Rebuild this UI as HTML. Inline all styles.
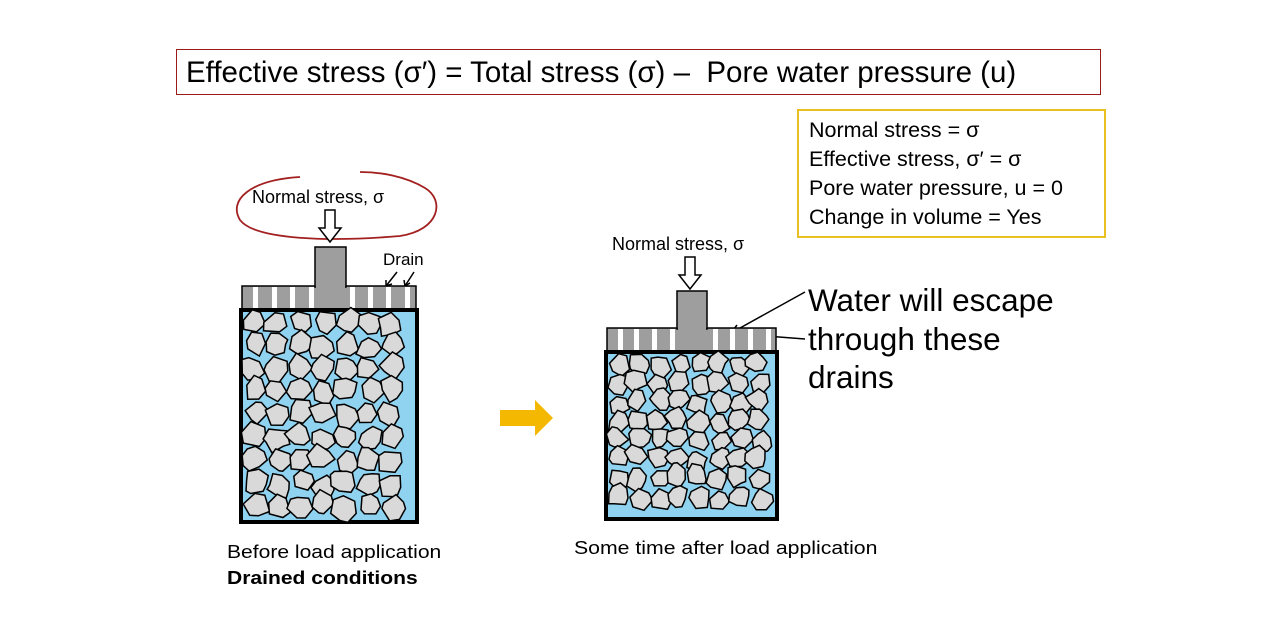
<!DOCTYPE html>
<html><head><meta charset="utf-8"><style>
body{margin:0;background:#fff;width:1280px;height:621px;overflow:hidden;position:relative;font-family:"Liberation Sans",sans-serif}
.t{position:absolute;white-space:nowrap;color:#000}
</style></head><body>
<div style="position:absolute;left:176px;top:49px;width:923px;height:44px;border:1.5px solid #9b1b1b"></div>
<div class="t" style="left:186px;top:56px;font-size:29.5px;line-height:34px">Effective stress (σ′) = Total stress (σ) –&nbsp; Pore water pressure (u)</div>
<div style="position:absolute;left:797px;top:109px;width:305px;height:125px;border:2px solid #e8c020"></div>
<div class="t" style="left:809px;top:116px;font-size:21.5px;line-height:29px">Normal stress = σ<br>Effective stress, σ′ = σ<br>Pore water pressure, u = 0<br>Change in volume = Yes</div>
<div class="t" style="left:252px;top:187px;font-size:18px">Normal stress, σ</div>
<div class="t" style="left:612px;top:234px;font-size:18px">Normal stress, σ</div>
<div class="t" style="left:383px;top:250px;font-size:17px">Drain</div>
<div class="t" style="left:808px;top:281px;font-size:31.5px;line-height:38.5px">Water will escape<br>through these<br>drains</div>
<div class="t" style="left:227px;top:539px;font-size:18px;line-height:26px;transform:scale(1.17,1);transform-origin:0 0">Before load application<br><b>Drained conditions</b></div>
<div class="t" style="left:574px;top:538px;font-size:18px;transform:scale(1.18,1);transform-origin:0 0">Some time after load application</div>
<svg width="1280" height="621" style="position:absolute;left:0;top:0" id="s">
<path d="M300 177 C250 180 228 200 240 220 C255 240 330 242 400 236 C440 230 445 200 425 188 C405 176 380 172 360 172" fill="none" stroke="#a32020" stroke-width="1.8"/>
<polygon points="325,210 335,210 335,228 341,228 330,242 319,228 325,228" fill="#fff" stroke="#000" stroke-width="1.5"/>
<polygon points="685,257 695,257 695,275 701,275 690,289 679,275 685,275" fill="#fff" stroke="#000" stroke-width="1.5"/>
<polygon points="500,410 535,410 535,400 553,418 535,436 535,426 500,426" fill="#f5b800"/>
<g stroke="#000" stroke-width="1.5" fill="none">
<line x1="397" y1="272" x2="386" y2="286"/><polyline points="386,280 386,286 392,284"/>
<line x1="414" y1="272" x2="405" y2="286"/><polyline points="404,280 405,286 410,283"/>
<line x1="805" y1="292" x2="731" y2="333"/><polyline points="737,325 731,333 740,332"/>
<line x1="805" y1="339" x2="766" y2="336"/><polyline points="773,332 766,336 773,340"/>
</g>
<g id="g"></g>
</svg>
<script>
var g=document.getElementById('g'),ns='http://www.w3.org/2000/svg',seed=7;
function r(){seed=(seed*9301+49297)%233280;return seed/233280;}
function el(n,a){var e=document.createElementNS(ns,n);for(var k in a)e.setAttribute(k,a[k]);g.appendChild(e);return e;}
function box(x0,x1,yTop,yPlate,yC,yB,sx,sy,stem,slits,rs){
 el('rect',{x:x0,y:yPlate,width:x1-x0,height:yC-yPlate,fill:'#9e9e9e',stroke:'#000','stroke-width':1.5});
 el('rect',{x:stem[0],y:yTop,width:stem[1]-stem[0],height:yPlate-yTop+1,fill:'#9e9e9e',stroke:'#000','stroke-width':1.5});
 el('rect',{x:stem[0]+1,y:yPlate-1,width:stem[1]-stem[0]-2,height:3,fill:'#9e9e9e'});
 slits.forEach(function(s){el('rect',{x:s,y:yPlate+1,width:5,height:yC-yPlate-1,fill:'#fff'});});
 el('rect',{x:x0-1,y:yC,width:x1-x0+2,height:yB-yC,fill:'#8fd3f0',stroke:'#000','stroke-width':4});
 for(var y=yC+12;y<yB-8;y+=sy)for(var x=x0+12;x<x1-8;x+=sx){
  var cx=x+(r()-.5)*6,cy=y+(r()-.5)*6,n=6+Math.floor(r()*3),p=[];
  for(var i=0;i<n;i++){var a=i/n*6.283+r()*.5,d=rs*(.75+r()*.4);p.push((cx+Math.cos(a)*d).toFixed(1)+','+(cy+Math.sin(a)*d).toFixed(1));}
  el('polygon',{points:p.join(' '),fill:'#d9d9d9',stroke:'#000','stroke-width':1.5});
 }
}
box(242,416,247,286,310,522,23,23,[315,346],[253,272,290,309,350,368,386,405],12.5);
box(607,776,291,328,352,519,20,19,[677,707],[618,634,652,670,713,730,748,766],11);
</script>
</body></html>
